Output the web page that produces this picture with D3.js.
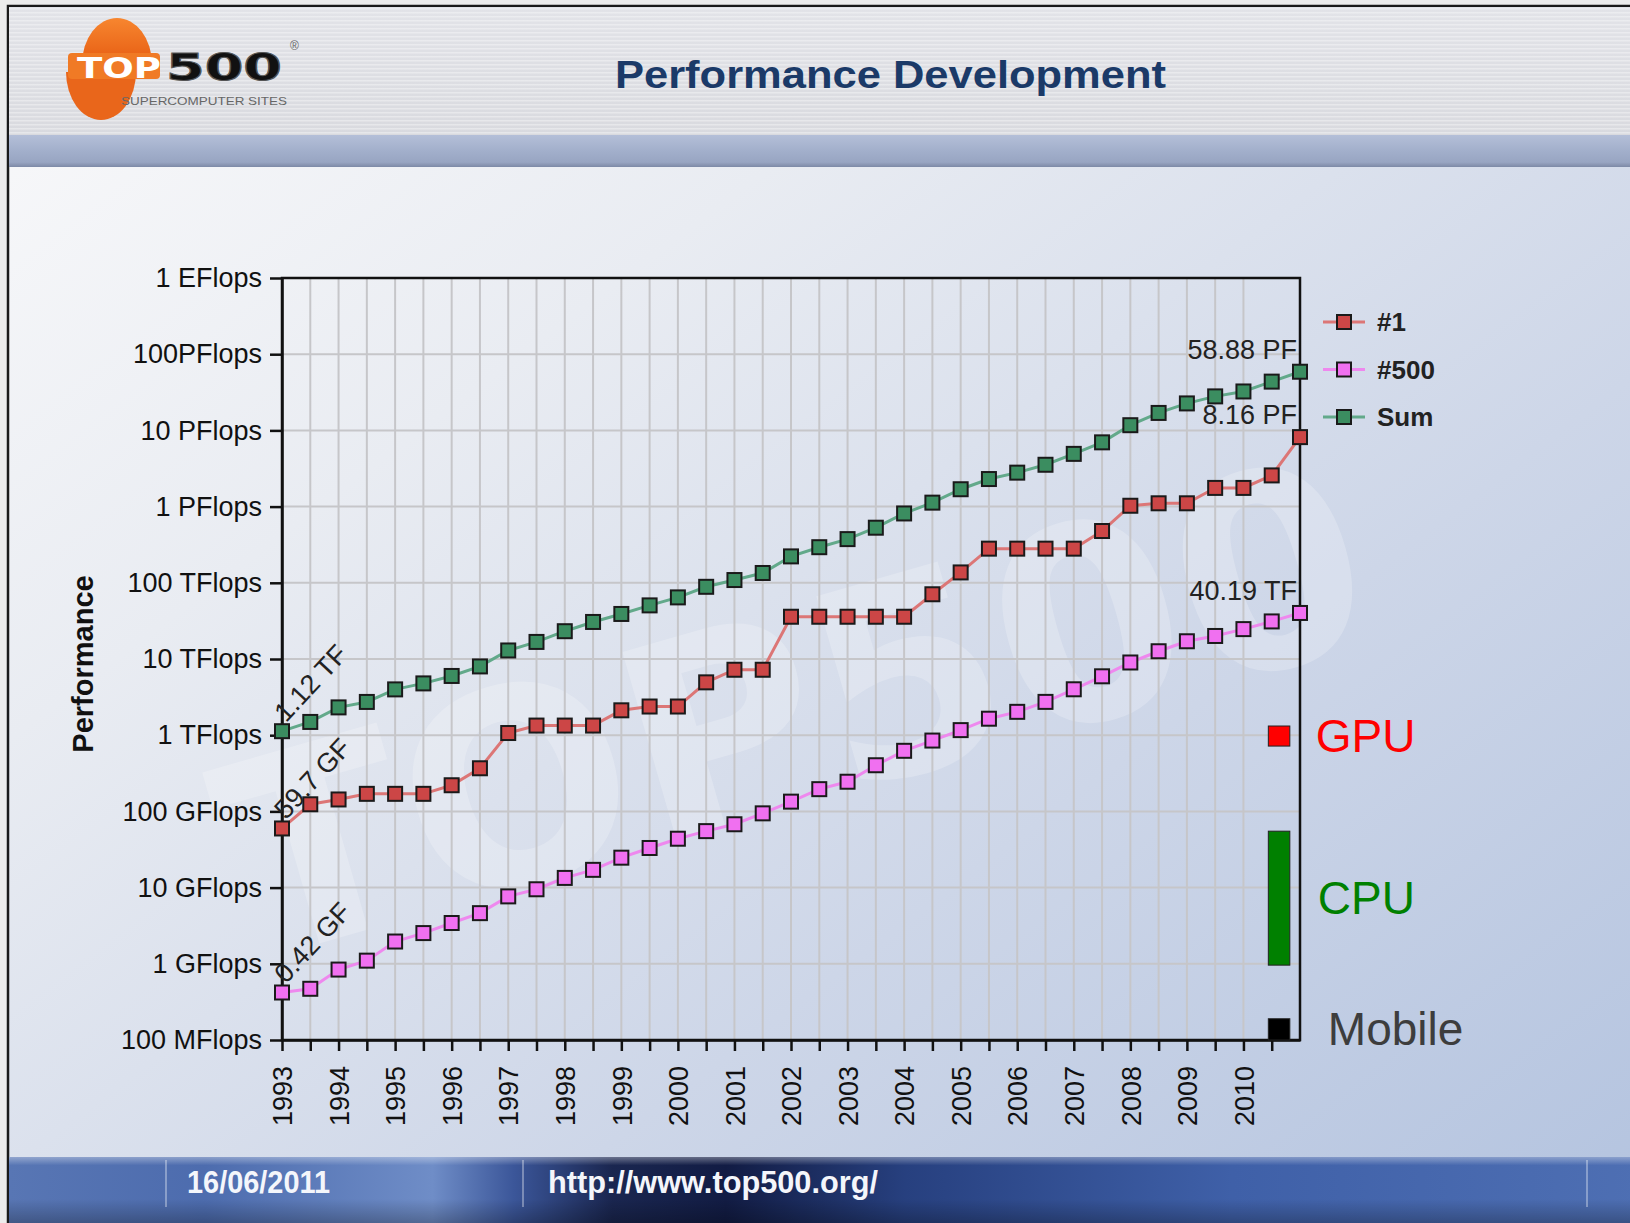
<!DOCTYPE html>
<html>
<head>
<meta charset="utf-8">
<script src="https://cdn.jsdelivr.net/npm/d3@7"></script>
<style>
  body { margin: 0; background: #ececec; overflow: hidden; }
  svg { display: block; }
  text { font-family: "Liberation Sans", Arial, sans-serif; }
</style>
</head>
<body>
<div id="viz"></div>
<script>
/***************** Data (performance in GFlops) *********************/
// list dates: June and November of each year
var lists = [1993, 1993.5, 1994, 1994.5, 1995, 1995.5, 1996, 1996.5, 1997, 1997.5,
             1998, 1998.5, 1999, 1999.5, 2000, 2000.5, 2001, 2001.5, 2002, 2002.5,
             2003, 2003.5, 2004, 2004.5, 2005, 2005.5, 2006, 2006.5, 2007, 2007.5,
             2008, 2008.5, 2009, 2009.5, 2010, 2010.5, 2011];

var top1 = [59.7, 124, 143.4, 170, 170, 170, 220.4, 368.2, 1068, 1338,
            1338, 1338, 2121, 2379, 2379, 4938, 7226, 7226, 35860, 35860,
            35860, 35860, 35860, 70720, 136800, 280600, 280600, 280600, 280600, 478200,
            1026000, 1105000, 1105000, 1759000, 1759000, 2566000, 8162000];

var top500 = [0.42, 0.47, 0.84, 1.1, 1.96, 2.53, 3.43, 4.62, 7.67, 9.51,
              13.4, 17.1, 24.7, 33.1, 43.8, 55.1, 67.8, 94.3, 134.3, 195.8,
              245.1, 403.4, 624, 850.6, 1166, 1646, 2026, 2737, 4005, 5929,
              9000, 12640, 17090, 20050, 24670, 31120, 40190];

var sum = [1128.6, 1493, 2317, 2732, 3992, 4784, 5990, 7990, 12940, 16750,
           23160, 30630, 39000, 50540, 64340, 88590, 108700, 134500, 222100, 293200,
           374400, 528400, 812900, 1127000, 1690000, 2300000, 2790000, 3540000, 4920000, 6970000,
           11700000, 16950000, 22600000, 27950000, 32430000, 43660000, 58880000];

var seriesNames = ["#1", "#500", "Sum"];
var firstLabels = ["59.7 GF", "0.42 GF", "1.12 TF"];
var lastLabels = ["8.16 PF", "40.19 TF", "58.88 PF"];

var yTickValues = [0.1, 1, 10, 100, 1e3, 1e4, 1e5, 1e6, 1e7, 1e8, 1e9];
var yTickLabels = ["100 MFlops", "1 GFlops", "10 GFlops", "100 GFlops", "1 TFlops",
                   "10 TFlops", "100 TFlops", "1 PFlops", "10 PFlops", "100PFlops", "1 EFlops"];

// hand-drawn overlay ranges (GFlops)
var techNames = ["GPU", "CPU", "Mobile"];
var techLow = [720, 0.96, 0.1];
var techHigh = [1320, 55, 0.19];
var techSpan = [2010.44, 2010.82];

/***************** Styles *********************/
var lineColors = ["#dc7676", "#ee88ee", "#62a98a"],
    markColors = ["#cc4646", "#f070f0", "#3b8d60"],
    techColors = ["#ff0000", "#008000", "#000000"],
    techTextColors = ["#ff0000", "#008000", "#3d3d3d"],
    techTextDx = [26, 28, 38],
    text_color = "#111";

var W = 1630, H = 1223;
var plot = {left: 282, right: 1300, top: 278, bottom: 1040};

var svg = d3.select("#viz").append("svg")
    .attr("width", W)
    .attr("height", H);

var defs = svg.append("defs");

function linGrad(id, x2, y2, stops) {
  var g = defs.append("linearGradient").attr("id", id)
      .attr("x1", 0).attr("y1", 0).attr("x2", x2).attr("y2", y2);
  stops.forEach(function(s) {
    g.append("stop").attr("offset", s[0]).attr("stop-color", s[1])
      .attr("stop-opacity", s[2] === undefined ? 1 : s[2]);
  });
}

linGrad("bodyGrad", 1, 1, [[0, "#fafafb"], [0.3, "#e9ecf2"], [0.65, "#cdd6e8"], [1, "#b3c3df"]]);
linGrad("headGrad", 0, 1, [[0, "#e2e3e8"], [1, "#d9dadf"]]);
linGrad("bandGrad", 0, 1, [[0, "#b4bfd8"], [0.5, "#a2afcb"], [0.85, "#98a5c2"], [1, "#7d89a6"]]);
linGrad("footGrad", 1, 0, [[0, "#5876b4"], [0.12, "#4d6cae"], [0.26, "#6f8dc7"], [0.31, "#3b5699"],
                           [0.37, "#1a2650"], [0.44, "#121c44"], [0.55, "#27407f"], [0.75, "#3f60a8"], [1, "#4e6fb3"]]);
linGrad("footShade", 0, 1, [[0, "#ffffff", 0.35], [0.12, "#ffffff", 0.0], [0.6, "#000000", 0.0], [1, "#000000", 0.3]]);
linGrad("logoGrad", 0, 1, [[0, "#f7862f"], [1, "#e65c12"]]);

var stripes = defs.append("pattern").attr("id", "stripes")
    .attr("width", 8).attr("height", 4).attr("patternUnits", "userSpaceOnUse");
stripes.append("rect").attr("width", 8).attr("height", 1.5).attr("fill", "#ffffff").attr("opacity", 0.35);

/***************** Slide background *********************/
svg.append("rect").attr("x", 8).attr("y", 6).attr("width", W).attr("height", H)
    .attr("fill", "url(#bodyGrad)").attr("stroke", "#1a1a1a").attr("stroke-width", 2.5);

svg.append("rect").attr("x", 9).attr("y", 7).attr("width", W).attr("height", 128).attr("fill", "url(#headGrad)");
svg.append("rect").attr("x", 9).attr("y", 7).attr("width", W).attr("height", 128).attr("fill", "url(#stripes)");
svg.append("rect").attr("x", 9).attr("y", 135).attr("width", W).attr("height", 32).attr("fill", "url(#bandGrad)");

// faint watermark
svg.append("text")
    .attr("transform", "translate(820,800) rotate(-16)")
    .attr("text-anchor", "middle")
    .style("font-family", "DejaVu Sans")
    .style("font-weight", "bold")
    .style("font-size", "270px")
    .attr("fill", "#ffffff").attr("fill-opacity", 0.22)
    .text("TOP500");

/***************** Header *********************/
var logo = svg.append("g");
logo.append("path")
    .attr("d", "M 82,64 A 35,46 0 0 1 152,64 Z")
    .attr("fill", "url(#logoGrad)");
logo.append("path")
    .attr("d", "M 66,72 A 35,48 0 0 0 136,72 Z")
    .attr("fill", "#e9661b");
logo.append("rect").attr("x", 68).attr("y", 53).attr("width", 92).attr("height", 26).attr("rx", 4).attr("fill", "#f07a25");
logo.append("text").attr("x", 77).attr("y", 78)
    .attr("textLength", 84).attr("lengthAdjust", "spacingAndGlyphs")
    .style("font-family", "DejaVu Sans").style("font-weight", "bold").style("font-size", "28px")
    .attr("fill", "#ffffff").text("TOP");
logo.append("text").attr("x", 166).attr("y", 80)
    .attr("textLength", 116).attr("lengthAdjust", "spacingAndGlyphs")
    .style("font-family", "DejaVu Sans").style("font-weight", "bold").style("font-size", "37px")
    .attr("fill", "#111").attr("stroke", "#555").attr("stroke-width", 1).text("500");
logo.append("text").attr("x", 290).attr("y", 50)
    .style("font-size", "12px").attr("fill", "#666").text("\u00ae");
logo.append("text").attr("x", 121).attr("y", 105)
    .attr("textLength", 166).attr("lengthAdjust", "spacingAndGlyphs")
    .style("font-size", "11px").attr("fill", "#666").text("SUPERCOMPUTER SITES");

svg.append("text")
    .attr("x", 615).attr("y", 88)
    .attr("textLength", 551).attr("lengthAdjust", "spacingAndGlyphs")
    .style("font-weight", "bold").style("font-size", "39px")
    .attr("fill", "#1b3a68")
    .text("Performance Development");

/***************** Footer *********************/
svg.append("rect").attr("x", 9).attr("y", 1157).attr("width", W).attr("height", 70).attr("fill", "url(#footGrad)");
svg.append("rect").attr("x", 9).attr("y", 1157).attr("width", W).attr("height", 70).attr("fill", "url(#footShade)");
[166, 523, 1587].forEach(function(sx) {
  svg.append("line").attr("x1", sx).attr("x2", sx).attr("y1", 1160).attr("y2", 1207)
      .attr("stroke", "#ffffff").attr("stroke-opacity", 0.45).attr("stroke-width", 1.5);
});
svg.append("text").attr("x", 187).attr("y", 1193)
    .attr("textLength", 143).attr("lengthAdjust", "spacingAndGlyphs")
    .style("font-weight", "bold").style("font-size", "31px").attr("fill", "#f4f6fb")
    .text("16/06/2011");
svg.append("text").attr("x", 548).attr("y", 1193)
    .attr("textLength", 330).attr("lengthAdjust", "spacingAndGlyphs")
    .style("font-weight", "bold").style("font-size", "31px").attr("fill", "#f4f6fb")
    .text("http://www.top500.org/");

/***************** Scales & grid *********************/
var x = d3.scaleLinear().domain([1993, 2011]).range([plot.left, plot.right]);
var y = d3.scaleLog().domain([0.1, 1e9]).range([plot.bottom, plot.top]);

var chart = svg.append("g");

chart.selectAll(".vgrid")
    .data(lists.filter(function(d) { return d > 1993 && d <= 2010; }))
    .enter().append("line")
    .attr("class", "vgrid")
    .attr("x1", function(d) { return x(d); })
    .attr("x2", function(d) { return x(d); })
    .attr("y1", plot.top).attr("y2", plot.bottom)
    .attr("stroke", "#c6c6c9").attr("stroke-width", 2);

chart.selectAll(".hgrid")
    .data(yTickValues.slice(1, -1))
    .enter().append("line")
    .attr("class", "hgrid")
    .attr("x1", plot.left).attr("x2", plot.right)
    .attr("y1", function(d) { return y(d); })
    .attr("y2", function(d) { return y(d); })
    .attr("stroke", "#c6c6c9").attr("stroke-width", 2);

/***************** Axes *********************/
var yAxis = d3.axisLeft(y)
    .tickValues(yTickValues)
    .tickFormat(function(d, i) { return yTickLabels[i]; })
    .tickSize(12).tickSizeOuter(0).tickPadding(8);

var gy = chart.append("g")
    .attr("transform", "translate(" + plot.left + ",0)")
    .call(yAxis);
gy.selectAll("text").style("font-size", "27px").attr("fill", text_color)
    .style("font-family", "'Liberation Sans', Arial, sans-serif");

var xAxis = d3.axisBottom(x)
    .tickValues(lists.filter(function(d) { return d < 2011; }))
    .tickFormat(function(d) { return d % 1 === 0 ? d : ""; })
    .tickSize(11).tickSizeOuter(0);

var gx = chart.append("g")
    .attr("transform", "translate(0," + plot.bottom + ")")
    .call(xAxis);
gx.selectAll("text")
    .attr("transform", "rotate(-90)")
    .attr("x", -26).attr("y", 0).attr("dy", "0.36em")
    .style("text-anchor", "end")
    .style("font-size", "27px")
    .style("font-family", "'Liberation Sans', Arial, sans-serif")
    .attr("fill", text_color);

[gx, gy].forEach(function(g) {
  g.selectAll("path, line").attr("stroke", "#111").attr("stroke-width", 2.5);
});

chart.append("rect")
    .attr("x", plot.left).attr("y", plot.top)
    .attr("width", plot.right - plot.left).attr("height", plot.bottom - plot.top)
    .attr("fill", "none").attr("stroke", "#111").attr("stroke-width", 2.5);

chart.append("text")
    .attr("transform", "translate(93,664) rotate(-90)")
    .style("text-anchor", "middle")
    .style("font-weight", "bold").style("font-size", "29px")
    .attr("fill", text_color)
    .text("Performance");

/***************** Series *********************/
var series = [top1, top500, sum];
var line = d3.line()
    .x(function(d, i) { return x(lists[i]); })
    .y(function(d) { return y(d); });

series.forEach(function(vals, k) {
  chart.append("path")
      .datum(vals)
      .attr("d", line)
      .attr("fill", "none")
      .attr("stroke", lineColors[k])
      .attr("stroke-width", 3);
});

series.forEach(function(vals, k) {
  chart.selectAll(".mark" + k)
      .data(vals)
      .enter().append("rect")
      .attr("class", "mark" + k)
      .attr("x", function(d, i) { return x(lists[i]) - 7; })
      .attr("y", function(d) { return y(d) - 7; })
      .attr("width", 14).attr("height", 14)
      .attr("fill", markColors[k])
      .attr("stroke", "#1a1a1a").attr("stroke-width", 2);

  var first = vals[0], last = vals[vals.length - 1];
  chart.append("text")
      .attr("transform", "translate(" + (x(lists[0]) + 4) + "," + (y(first) - 8) + ") rotate(-47)")
      .style("font-size", "27px").attr("fill", "#222")
      .text(firstLabels[k]);
  chart.append("text")
      .attr("x", x(lists[lists.length - 1]) - 3)
      .attr("y", y(last) - 13)
      .style("text-anchor", "end")
      .style("font-size", "27px").attr("fill", "#222")
      .text(lastLabels[k]);
});

/***************** Legend *********************/
var legend = svg.append("g").attr("transform", "translate(1323,322)");
seriesNames.forEach(function(name, k) {
  var g = legend.append("g").attr("transform", "translate(0," + (k * 47.5) + ")");
  g.append("line").attr("x1", 0).attr("x2", 42).attr("stroke", lineColors[k]).attr("stroke-width", 3);
  g.append("rect").attr("x", 14).attr("y", -7).attr("width", 14).attr("height", 14)
      .attr("fill", markColors[k]).attr("stroke", "#1a1a1a").attr("stroke-width", 2);
  g.append("text").attr("x", 54).attr("y", 9)
      .style("font-weight", "bold").style("font-size", "26px").attr("fill", "#222")
      .text(name);
});

/***************** GPU / CPU / Mobile overlay *********************/
techNames.forEach(function(name, k) {
  var top = y(techHigh[k]), bot = y(techLow[k]);
  svg.append("rect")
      .attr("x", x(techSpan[0])).attr("y", top)
      .attr("width", x(techSpan[1]) - x(techSpan[0])).attr("height", bot - top)
      .attr("fill", techColors[k]).attr("stroke", "#222").attr("stroke-width", 1);
  svg.append("text")
      .attr("x", x(techSpan[1]) + techTextDx[k])
      .attr("y", (top + bot) / 2 + 16)
      .style("font-size", "46px")
      .attr("fill", techTextColors[k])
      .text(name);
});
</script>
</body>
</html>
